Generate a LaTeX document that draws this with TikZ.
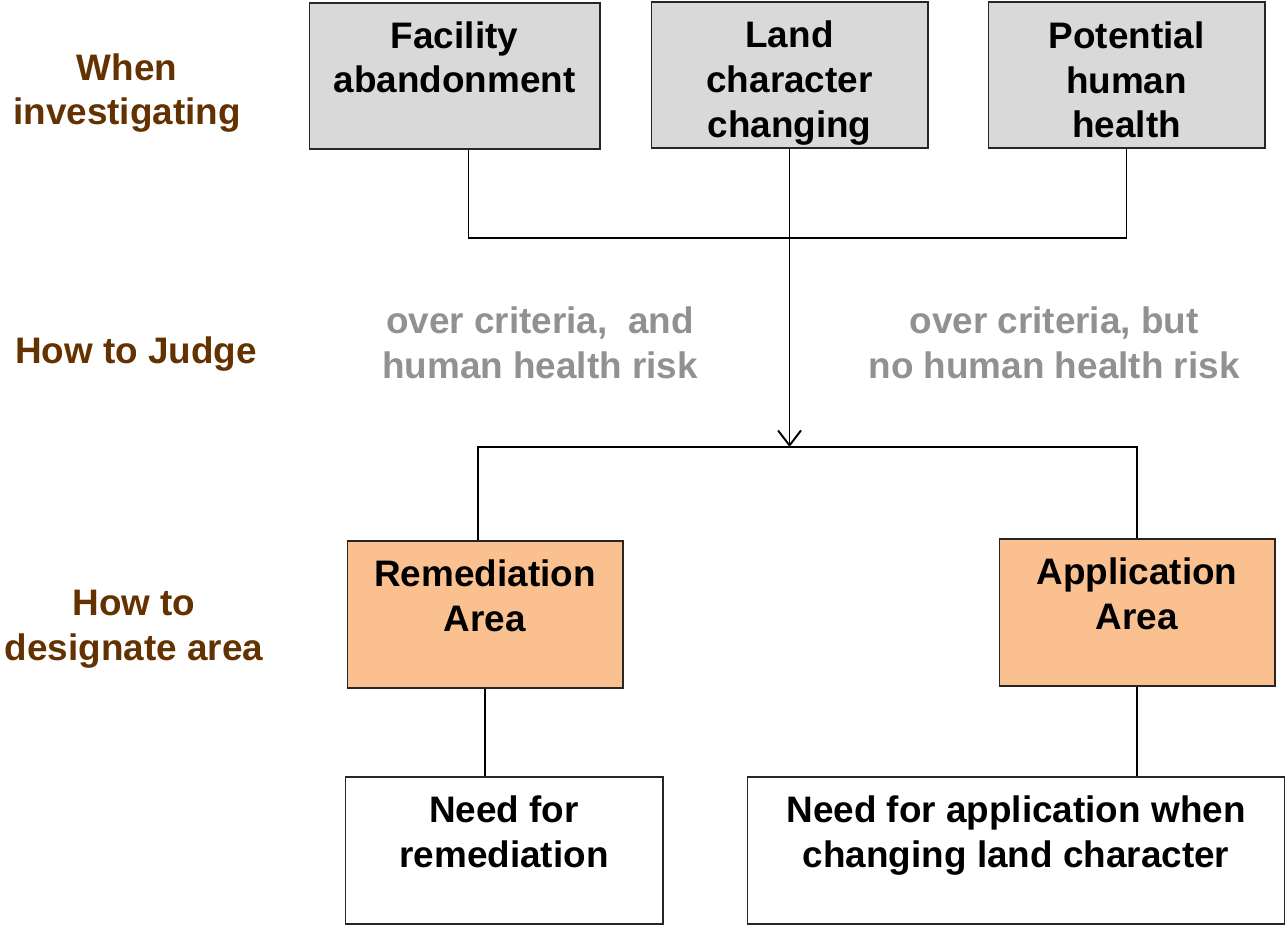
\documentclass[tikz,border=0pt]{standalone}
\usepackage{fontspec}
\setmainfont{Liberation Sans}
\usetikzlibrary{arrows.meta}

\definecolor{stepgray}{RGB}{217,217,217}
\definecolor{areaorange}{RGB}{250,192,144}
\definecolor{rowbrown}{RGB}{99,50,0}
\definecolor{judgegray}{RGB}{145,145,145}

\tikzset{
  box/.style={draw=black!85, line width=0.6pt, align=center,
    font=\fontsize{21}{25.5}\selectfont\bfseries, inner sep=0pt},
  topbox/.style={box, fill=stepgray, minimum width=5.54cm, minimum height=2.92cm},
  areabox/.style={box, fill=areaorange, minimum width=5.52cm, minimum height=2.94cm},
  needbox/.style={box, fill=white, minimum height=2.94cm},
  rowlabel/.style={text=rowbrown, align=center,
    font=\fontsize{21}{25.5}\selectfont\bfseries},
  judgelabel/.style={text=judgegray, align=center,
    font=\fontsize{21}{25.5}\selectfont\bfseries},
  link/.style={line width=1.1pt, black}
}

\begin{document}
\begin{tikzpicture}[x=0.02cm, y=-0.02cm]

  % Canvas
  \useasboundingbox (0,0) rectangle (1287,925);

  % Row headers
  \node[rowlabel] (when)   at (127,93)  {When\\investigating};
  \node[rowlabel] (judge)  at (136,354) {How to Judge};
  \node[rowlabel] (desig)  at (134,629) {How to\\designate area};

  % Investigation triggers
  \node[topbox, minimum width=5.82cm] (facility) at (454.5,76) {Facility\\abandonment\\[-4pt]~};
  \node[topbox] (land)      at (789.5,75)  {Land\\character\\changing\\[-30pt]~};
  \node[topbox] (potential) at (1126.5,75) {Potential\\human\\health\\[-31pt]~};

  % Judgement texts
  \node[judgelabel] (risk)   at (540,343)  {over criteria,~ and\\human health risk};
  \node[judgelabel] (norisk) at (1054,343) {over criteria, but\\no human health risk};

  % Designated areas
  \node[areabox] (remarea) at (485,614.5) {Remediation\\Area\\[-4pt]~};
  \node[areabox] (apparea) at (1137,612.5) {Application\\Area\\[-4pt]~};

  % Obligations
  \node[needbox, minimum width=6.36cm]  (needrem) at (504,850.5)  {Need for\\remediation\\[-4pt]~};
  \node[needbox, minimum width=10.76cm] (needapp) at (1016,850.5) {Need for application when\\changing land character\\[-4pt]~};

  % Junction bars
  \coordinate (topbar) at (0,238);
  \coordinate (midbar) at (0,447);

  % Connectors
  \draw[link] ([xshift=0.28cm]facility.south) -- ([xshift=0.28cm]facility.south |- topbar)
    -- (potential.south |- topbar) -- (potential.south);
  \draw[link, -{Straight Barb[length=3mm, width=4.6mm]}]
    (land.south) -- (land.south |- midbar);
  \draw[link] ([xshift=-0.14cm]remarea.north) -- ([xshift=-0.14cm]remarea.north |- midbar)
    -- (apparea.north |- midbar) -- (apparea.north);
  \draw[link] (remarea.south) -- (remarea.south |- needrem.north);
  \draw[link] (apparea.south) -- (apparea.south |- needapp.north);

\end{tikzpicture}
\end{document}
